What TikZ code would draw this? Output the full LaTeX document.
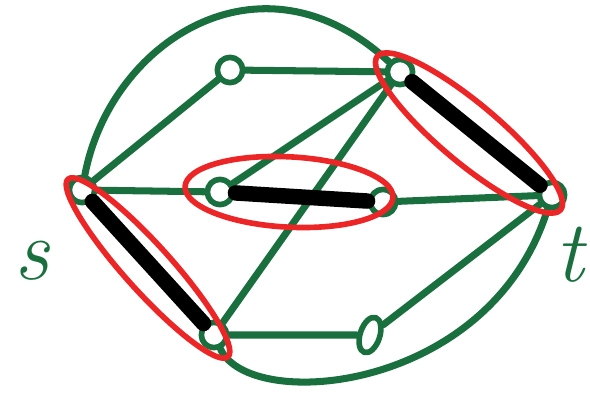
\documentclass[tikz,border=0pt]{standalone}
\usepackage{tikz}
\usetikzlibrary{shapes.geometric}
\definecolor{pen green}{RGB}{25,112,62}
\definecolor{pen red}{RGB}{236,38,38}

\begin{document}
\begin{tikzpicture}[x=0.025cm, y=0.025cm, line cap=round, line join=round,
		vertex/.style={circle, draw=pen green, line width=4pt, minimum size=18pt, inner sep=0pt},
		edge/.style={draw=pen green, line width=5pt},
		matched/.style={draw=black, line width=11pt},
		ring/.style={ellipse, draw=pen red, line width=4pt, inner sep=0pt},
		letter/.style={text=pen green, inner sep=0pt, font=\fontsize{62}{62}\selectfont\itshape}]
		\useasboundingbox (0,0) rectangle (590,393);
		% vertices
		\node[vertex] (s) at (82,203) {};
		\node[vertex] (a) at (230,323) {};
		\node[vertex] (b) at (400,321) {};
		\node[vertex] (c) at (220,201) {};
		\node[vertex] (d) at (383,191) {};
		\node[vertex] (t) at (552,198) {};
		\node[vertex] (e) at (214,58) {};
		\node[vertex, ellipse, minimum width=14pt, minimum height=26pt, rotate=-18] (f) at (370,58) {};
		\node[letter] (sl) at (32,132) {s};
		\node[letter] (tl) at (570,138) {t};
		% green edges
		\draw[edge] (s) -- (a);
		\draw[edge] (a) -- (b);
		\draw[edge] (s) -- (c);
		\draw[edge] (c) -- (b);
		\draw[edge] (e) -- (b);
		\draw[edge] (e) -- (f);
		\draw[edge] (f) -- (t);
		\draw[edge] (d) -- (t);
		\draw[edge] (s) .. controls (110,350) and (260,450) .. (b);
		\draw[edge] (e) .. controls (250,-20) and (490,0) .. (t);
		% red rings round the matching
		\node[ring, rotate=-48, minimum width=170pt, minimum height=33pt] (rse) at (148,125) {};
		\node[ring, rotate=-3, minimum width=148pt, minimum height=50pt] (rcd) at (289,201) {};
		\node[ring, rotate=-40, minimum width=170pt, minimum height=42pt] (rbt) at (469,260) {};
		% matching
		\draw[matched] (s) -- (e);
		\draw[matched] (c) -- (d);
		\draw[matched] (b) -- (t);
	\end{tikzpicture}
\end{document}
